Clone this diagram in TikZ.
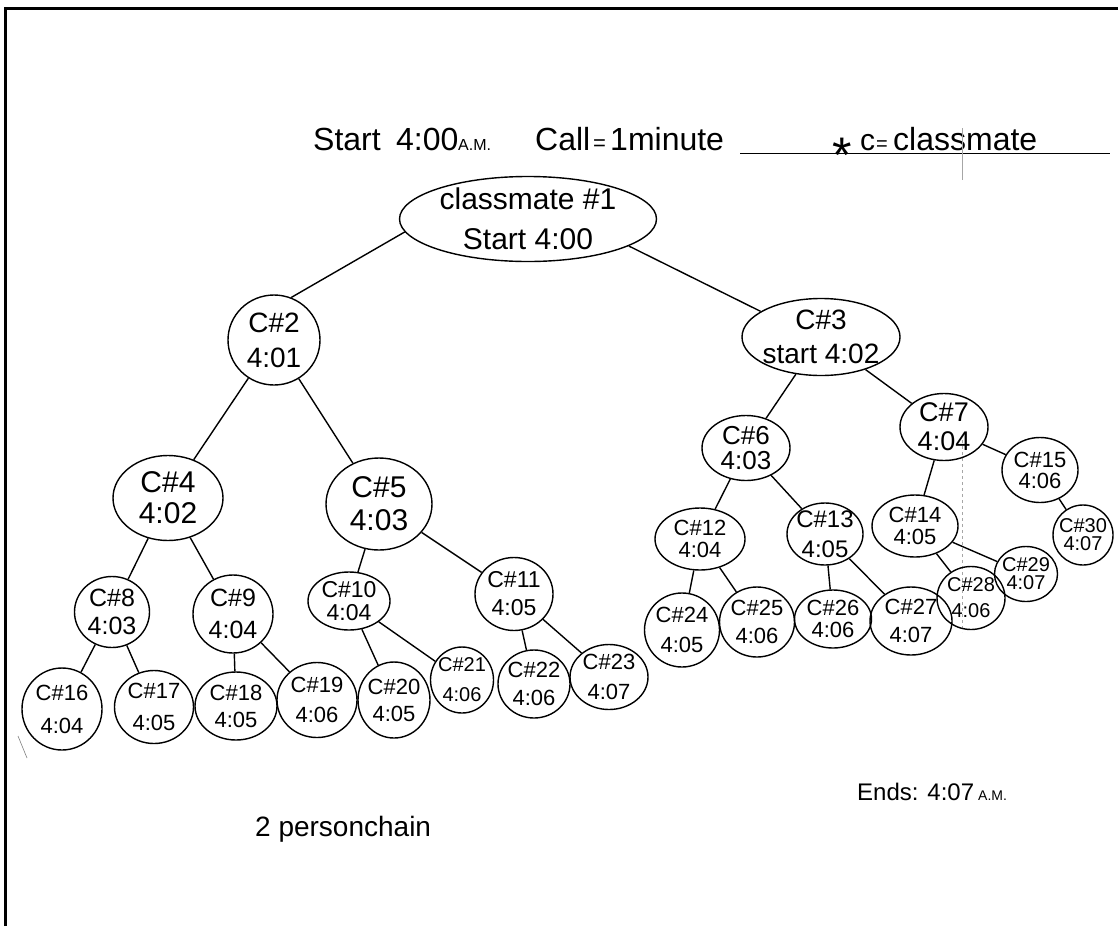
\documentclass[tikz,border=0pt]{standalone}
\usepackage{fontspec}
\setmainfont{Liberation Sans}
\usetikzlibrary{shapes.geometric}
\begin{document}
\begin{tikzpicture}[x=1pt,y=-1pt,
  fs/.style 2 args={font=\fontsize{#1}{#2}\selectfont},
  cn/.style={draw, ellipse, line width=1.4pt, inner sep=-10pt, align=center},
  edge/.style={line width=1.4pt},
  note/.style={anchor=base west, inner sep=0pt},
  fold/.style={black!35, line width=0.8pt}]
\useasboundingbox (0,0) rectangle (1118,926);
\fill[white] (0,0) rectangle (1118,926);
% frame
\draw[line width=3pt] (5,926) -- (5,8) -- (1118,8);

% title
\node[note, fs={32}{32}] (t1) at (313,150) {Start};
\node[note, fs={32}{32}] (t2) at (396,150) {4:00};
\node[note, fs={16}{16}] (t3) at (458,150) {A.M.};
\node[note, fs={32}{32}] (t4) at (535,150) {Call};
\node[note, fs={22}{22}] (t5) at (593,150) {=};
\node[note, fs={32}{32}] (t6) at (610,150) {1minute};
\node[note, fs={50}{50}] (t7) at (832,172) {*};
\node[note, fs={30}{30}] (t8) at (860,150) {c};
\node[note, fs={20}{20}] (t9) at (876,150) {=};
\node[note, fs={32}{32}] (t10) at (893,150) {classmate};
\draw[line width=1pt] (740,153) -- (1110,153);
\draw[fold] (962,128) -- (962,180);
\draw[fold, dashed] (962,440) -- (962,632);

% nodes
\node[cn, fs={30}{40}, minimum width=257pt, minimum height=85pt] (c1) at (528,219) {classmate \#1\\Start 4:00};
\node[cn, fs={28}{35}, minimum width=92pt, minimum height=90pt] (c2) at (274,340) {C\#2\\4:01};
\node[cn, fs={28}{34}, minimum width=158pt, minimum height=77pt] (c3) at (821,337) {C\#3\\start 4:02};
\node[cn, fs={30}{31}, minimum width=110pt, minimum height=85pt] (c4) at (168,498) {C\#4\\4:02};
\node[cn, fs={30}{33}, minimum width=106pt, minimum height=92pt] (c5) at (379,504) {C\#5\\4:03};
\node[cn, fs={26}{25}, minimum width=88pt, minimum height=65pt] (c6) at (746,448) {C\#6\\4:03};
\node[cn, fs={27}{29}, minimum width=88pt, minimum height=67pt] (c7) at (944,427) {C\#7\\4:04};
\node[cn, fs={25}{28}, minimum width=75pt, minimum height=71pt] (c8) at (112,612) {C\#8\\4:03};
\node[cn, fs={25}{32}, minimum width=80pt, minimum height=78pt] (c9) at (233,614) {C\#9\\4:04};
\node[cn, fs={23}{23}, minimum width=82pt, minimum height=58pt] (c10) at (349,601) {C\#10\\4:04};
\node[cn, fs={23}{28}, minimum width=78pt, minimum height=73pt] (c11) at (514,594) {C\#11\\4:05};
\node[cn, fs={22}{22}, minimum width=90pt, minimum height=62pt] (c12) at (700,539) {C\#12\\4:04};
\node[cn, fs={24}{30}, minimum width=76pt, minimum height=62pt] (c13) at (825,534) {C\#13\\4:05};
\node[cn, fs={22}{22}, minimum width=86pt, minimum height=62pt] (c14) at (915,526) {C\#14\\4:05};
\node[cn, fs={22}{21}, minimum width=76pt, minimum height=65pt] (c15) at (1040,470) {C\#15\\4:06};
\node[cn, fs={22}{33}, minimum width=80pt, minimum height=82pt] (c16) at (62,709) {C\#16\\4:04};
\node[cn, fs={22}{32}, minimum width=79pt, minimum height=73pt] (c17) at (154,707) {C\#17\\4:05};
\node[cn, fs={22}{27}, minimum width=82pt, minimum height=68pt] (c18) at (236,706) {C\#18\\4:05};
\node[cn, fs={22}{30}, minimum width=80pt, minimum height=75pt] (c19) at (317,700) {C\#19\\4:06};
\node[cn, fs={22}{27}, minimum width=72pt, minimum height=76pt] (c20) at (394,700) {C\#20\\4:05};
\node[cn, fs={20}{30}, minimum width=63pt, minimum height=66pt] (c21) at (462,680) {C\#21\\4:06};
\node[cn, fs={22}{28}, minimum width=72pt, minimum height=68pt] (c22) at (534,684) {C\#22\\4:06};
\node[cn, fs={22}{30}, minimum width=78pt, minimum height=65pt] (c23) at (609,677) {C\#23\\4:07};
\node[cn, fs={22}{30}, minimum width=75pt, minimum height=74pt] (c24) at (682,630) {C\#24\\4:05};
\node[cn, fs={22}{28}, minimum width=75pt, minimum height=70pt] (c25) at (757,622) {C\#25\\4:06};
\node[cn, fs={22}{22}, minimum width=77pt, minimum height=58pt] (c26) at (833,619) {C\#26\\4:06};
\node[cn, fs={22}{28}, minimum width=82pt, minimum height=68pt] (c27) at (911,621) {C\#27\\4:07};
\node[cn, fs={20}{26}, minimum width=68pt, minimum height=63pt] (c28) at (971,598) {C\#28\\4:06};
\node[cn, fs={20}{18}, minimum width=63pt, minimum height=55pt] (c29) at (1026,574) {C\#29\\4:07};
\node[cn, fs={20}{18}, minimum width=60pt, minimum height=60pt] (c30) at (1083,535) {C\#30\\4:07};

% edges
\draw[edge] (c1.186) -- (c2.68);
\draw[edge] (c1.345) -- (c3.157);
\draw[edge] (c2) -- (c4);
\draw[edge] (c2) -- (c5);
\draw[edge] (c3) -- (c6);
\draw[edge] (c3) -- (c7);
\draw[edge] (c4) -- (c8);
\draw[edge] (c4) -- (c9);
\draw[edge] (c5) -- (c10);
\draw[edge] (c5) -- (c11);
\draw[edge] (c6) -- (c12);
\draw[edge] (c6) -- (c13);
\draw[edge] (c7) -- (c14);
\draw[edge] (c7) -- (c15);
\draw[edge] (c8) -- (c16);
\draw[edge] (c8) -- (c17);
\draw[edge] (c9) -- (c18);
\draw[edge] (c9) -- (c19);
\draw[edge] (c10) -- (c20);
\draw[edge] (c10) -- (c21);
\draw[edge] (c11) -- (c22);
\draw[edge] (c11) -- (c23);
\draw[edge] (c12) -- (c24);
\draw[edge] (c12) -- (c25);
\draw[edge] (c13) -- (c26);
\draw[edge] (c13) -- (c27);
\draw[edge] (c14) -- (c28);
\draw[edge] (c14) -- (c29);
\draw[edge] (c15) -- (c30);

% stray mark
\draw[black!50, line width=0.6pt] (18,736) -- (27,758);

% bottom notes
\node[note, fs={28}{28}] (n1) at (255,836) {2 personchain};
\node[note, fs={24}{24}] (n2) at (857,800) {Ends: 4:07\,{\fontsize{14}{14}\selectfont A.M.}};
\end{tikzpicture}
\end{document}
